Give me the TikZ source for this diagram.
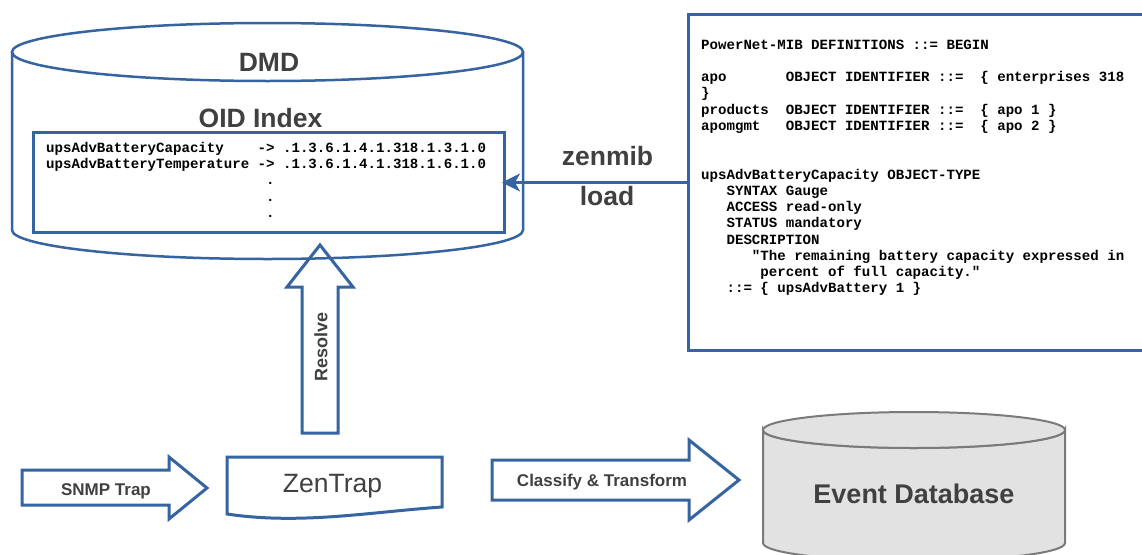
\documentclass[tikz,border=0pt]{standalone}
\usepackage{fontspec}
\setmainfont{Liberation Sans}
\setmonofont{Liberation Mono}
\usetikzlibrary{arrows.meta}
\definecolor{zblue}{RGB}{53,100,160}
\definecolor{ztext}{RGB}{64,64,64}
\definecolor{dbfill}{RGB}{226,226,226}
\definecolor{dbline}{RGB}{122,122,122}
\newcommand{\blanks}[1]{\hspace*{\dimexpr 0.6em*#1\relax}}
\tikzset{
  cyl/.style={draw=zblue, line width=2.5pt},
  framebox/.style={draw=zblue, line width=3pt, rectangle, inner sep=0pt},
  blockarrow/.style={draw=zblue, line width=3pt, line join=miter},
  zline/.style={draw=zblue, line width=2.5pt, -{Stealth[length=18pt,width=18pt,inset=5pt]}, shorten >=-4pt},
  dbshape/.style={draw=dbline, line width=2pt, fill=dbfill},
  bigtitle/.style={text=ztext, inner sep=0pt, font=\fontsize{26.5}{30}\selectfont\bfseries},
  smalltitle/.style={text=ztext, inner sep=0pt, font=\fontsize{17}{20}\selectfont\bfseries},
  codetext/.style={inner sep=0pt, align=left, font=\fontsize{14.1}{16.25}\selectfont\ttfamily\bfseries},
}
\begin{document}
\begin{tikzpicture}[x=1pt,y=-1pt]
\useasboundingbox (0,0) rectangle (1142,554);
\fill[white] (0,0) rectangle (1142,554);

% DMD cylinder
\draw[cyl] (267.5,52) ellipse [x radius=255.5, y radius=29];
\draw[cyl] (12,52) -- (12,230) arc[start angle=180, end angle=0, x radius=255.5, y radius=29] -- (523,52);
\node[bigtitle, anchor=base] (dmd) at (269,71) {DMD};
\node[bigtitle, anchor=base] (oidtitle) at (260.5,127) {OID Index};

% OID index box
\node[framebox, anchor=north west, minimum width=471pt, minimum height=100pt] (oid) at (32,131) {};
\node[codetext, anchor=north west] (oidtext) at (46,140.8) {%
\strut upsAdvBatteryCapacity\blanks{4}->~.1.3.6.1.4.1.318.1.3.1.0\\
\strut upsAdvBatteryTemperature~->~.1.3.6.1.4.1.318.1.6.1.0\\
\strut\blanks{26}.\\
\strut\blanks{26}.\\
\strut\blanks{26}.};

% MIB box
\node[framebox, anchor=north west, minimum width=480pt, minimum height=336pt] (mib) at (687,13) {};
\node[codetext, anchor=north west] (mibtext) at (701,37.6) {%
\strut PowerNet-MIB DEFINITIONS ::= BEGIN\\
\strut\\
\strut apo\blanks{7}OBJECT IDENTIFIER ::=\blanks{2}\{ enterprises 318\\
\strut \}\\
\strut products\blanks{2}OBJECT IDENTIFIER ::=\blanks{2}\{ apo 1 \}\\
\strut apomgmt\blanks{3}OBJECT IDENTIFIER ::=\blanks{2}\{ apo 2 \}\\
\strut\\
\strut\\
\strut upsAdvBatteryCapacity OBJECT-TYPE\\
\strut\blanks{3}SYNTAX Gauge\\
\strut\blanks{3}ACCESS read-only\\
\strut\blanks{3}STATUS mandatory\\
\strut\blanks{3}DESCRIPTION\\
\strut\blanks{6}"The remaining battery capacity expressed in\\
\strut\blanks{7}percent of full capacity."\\
\strut\blanks{3}::= \{ upsAdvBattery 1 \}};

% zenmib load arrow
\draw[zline] (mib.west) -- (oid.east);
\node[bigtitle, anchor=base] (zenmib) at (607.5,165) {zenmib};
\node[bigtitle, anchor=base] (load) at (607,205) {load};

% Resolve arrow
\coordinate (restip) at (320,245);
\draw[blockarrow] (302,433) -- (302,287) -- (287,287) -- (restip) -- (353,287) -- (338,287) -- (338,433) -- cycle;
\node[text=ztext, inner sep=0pt, font=\fontsize{18}{20}\selectfont\bfseries, rotate=90] (resolve) at (321,347) {Resolve};

% SNMP Trap arrow
\coordinate (snmptip) at (207,488);
\draw[blockarrow] (22,470) -- (169,470) -- (169,457) -- (snmptip) -- (169,519) -- (169,505) -- (22,505) -- cycle;
\node[smalltitle, anchor=base] (snmp) at (106,495) {SNMP Trap};

% ZenTrap document shape
\draw[blockarrow] (227,457) -- (442,457) -- (442,507) .. controls (370,512) and (300,525) .. (227,514) -- cycle;
\node[text=ztext, inner sep=0pt, font=\fontsize{26.5}{30}\selectfont, anchor=base] (zentrap) at (332.5,492) {ZenTrap};

% Classify & Transform arrow
\coordinate (classtip) at (739,480);
\draw[blockarrow] (492,460) -- (689,460) -- (689,440) -- (classtip) -- (689,520) -- (689,500) -- (492,500) -- cycle;
\node[smalltitle, anchor=base] (classify) at (602,486) {Classify \& Transform};

% Event Database cylinder
\path[dbshape] (763,430) -- (763,543) arc[start angle=180, end angle=0, x radius=151, y radius=18] -- (1065,430) arc[start angle=0, end angle=180, x radius=151, y radius=18] -- cycle;
\draw[dbshape] (914,430) ellipse [x radius=151, y radius=18];
\node[bigtitle, font=\fontsize{27}{30}\selectfont\bfseries, anchor=base] (eventdb) at (914,503) {Event Database};
\end{tikzpicture}
\end{document}
